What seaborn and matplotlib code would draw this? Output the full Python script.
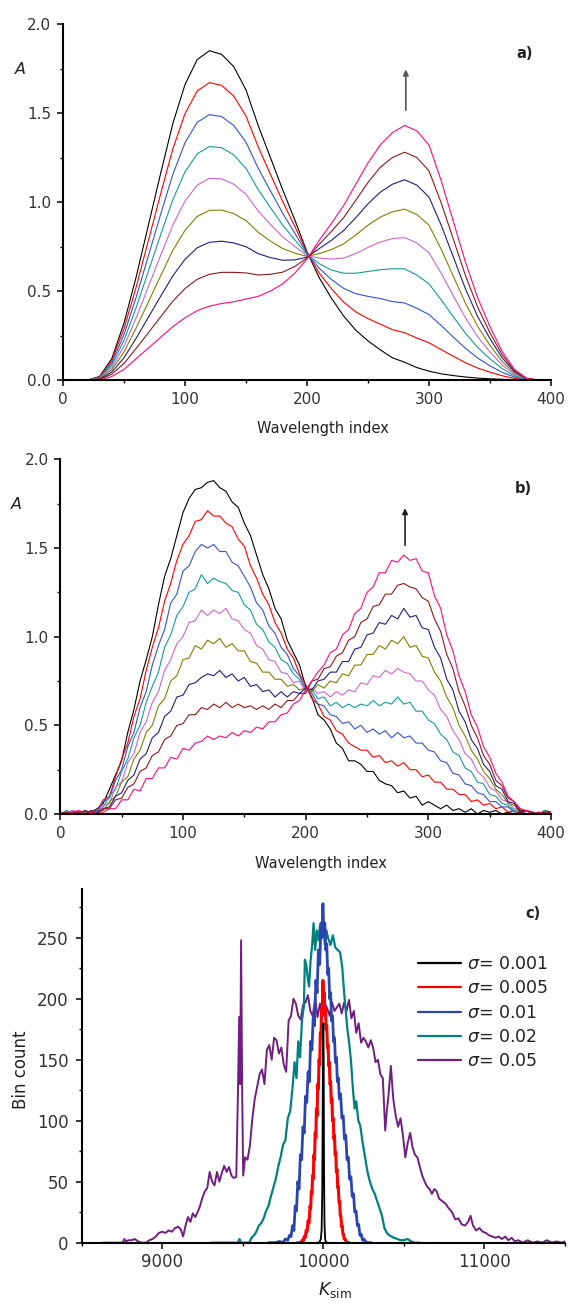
import numpy as np
import pandas as pd
import matplotlib
matplotlib.use("Agg")
import matplotlib.pyplot as plt
from matplotlib.ticker import MultipleLocator, FormatStrFormatter
import seaborn as sns

sns.set_theme(style="ticks")
plt.rcParams['font.family'] = ['DejaVu Sans']
plt.rcParams['mathtext.fontset'] = 'dejavusans'

# ---------------- panel a: clean spectra (every 10 wavelength indices) ----------------
wl_a = np.arange(0, 401, 10)
a_black = [0, 0, 0, 0.02, 0.12, 0.32, 0.58, 0.87, 1.16, 1.44, 1.66, 1.80, 1.85, 1.83, 1.76, 1.63, 1.43, 1.25, 1.07, 0.90,
           0.72, 0.575, 0.46, 0.36, 0.28, 0.22, 0.17, 0.125, 0.10, 0.07, 0.05, 0.035, 0.025, 0.017, 0.011, 0.007, 0.004, 0.002, 0, 0, 0]
a_red = [0, 0, 0, 0.018, 0.108, 0.288, 0.523, 0.784, 1.045, 1.298, 1.496, 1.624, 1.671, 1.655, 1.595, 1.483, 1.310, 1.156, 1.004, 0.863,
         0.715, 0.601, 0.513, 0.438, 0.383, 0.345, 0.314, 0.283, 0.266, 0.236, 0.209, 0.171, 0.133, 0.097, 0.067, 0.044, 0.024, 0.009, 0.001, 0, 0]
a_blue = [0, 0, 0, 0.015, 0.095, 0.255, 0.465, 0.698, 0.930, 1.155, 1.333, 1.448, 1.491, 1.480, 1.430, 1.336, 1.190, 1.063, 0.938, 0.825,
          0.710, 0.628, 0.565, 0.515, 0.485, 0.470, 0.458, 0.441, 0.433, 0.403, 0.368, 0.306, 0.241, 0.178, 0.123, 0.080, 0.043, 0.017, 0.003, 0, 0]
a_teal = [0, 0, 0, 0.013, 0.083, 0.223, 0.408, 0.611, 0.815, 1.013, 1.169, 1.271, 1.312, 1.305, 1.265, 1.189, 1.070, 0.969, 0.871, 0.788,
          0.705, 0.654, 0.618, 0.600, 0.600, 0.610, 0.620, 0.625, 0.625, 0.590, 0.540, 0.450, 0.355, 0.262, 0.182, 0.119, 0.064, 0.024, 0.004, 0, 0]
a_violet = [0, 0, 0, 0.010, 0.070, 0.190, 0.350, 0.525, 0.700, 0.870, 1.005, 1.095, 1.133, 1.130, 1.100, 1.043, 0.950, 0.875, 0.805, 0.750,
            0.700, 0.685, 0.680, 0.685, 0.710, 0.745, 0.775, 0.795, 0.800, 0.770, 0.715, 0.600, 0.472, 0.348, 0.242, 0.158, 0.084, 0.032, 0.005, 0, 0]
a_olive = [0, 0, 0, 0.008, 0.058, 0.158, 0.293, 0.439, 0.585, 0.728, 0.841, 0.919, 0.953, 0.955, 0.935, 0.896, 0.830, 0.781, 0.739, 0.713,
           0.695, 0.710, 0.733, 0.765, 0.815, 0.870, 0.915, 0.945, 0.960, 0.930, 0.870, 0.735, 0.582, 0.430, 0.300, 0.195, 0.104, 0.039, 0.006, 0, 0]
a_navy = [0, 0, 0, 0.005, 0.045, 0.125, 0.235, 0.353, 0.470, 0.585, 0.678, 0.743, 0.774, 0.780, 0.770, 0.749, 0.710, 0.688, 0.673, 0.675,
          0.690, 0.738, 0.785, 0.840, 0.912, 0.990, 1.055, 1.100, 1.125, 1.095, 1.028, 0.870, 0.690, 0.510, 0.355, 0.232, 0.124, 0.047, 0.008, 0, 0]
a_wine = [0, 0, 0, 0.003, 0.033, 0.093, 0.178, 0.266, 0.355, 0.443, 0.514, 0.566, 0.594, 0.605, 0.605, 0.602, 0.590, 0.594, 0.606, 0.638,
          0.685, 0.762, 0.835, 0.912, 1.010, 1.110, 1.195, 1.250, 1.280, 1.250, 1.175, 0.995, 0.790, 0.585, 0.408, 0.265, 0.142, 0.053, 0.009, 0, 0]
a_pink = [0, 0, 0, 0, 0.02, 0.06, 0.12, 0.18, 0.24, 0.30, 0.35, 0.39, 0.415, 0.43, 0.44, 0.455, 0.47, 0.50, 0.54, 0.60,
          0.68, 0.785, 0.88, 0.98, 1.10, 1.22, 1.32, 1.39, 1.43, 1.40, 1.32, 1.12, 0.89, 0.66, 0.46, 0.30, 0.16, 0.06, 0.01, 0, 0]

# ---------------- panel b: noisy spectra (every 5 wavelength indices) ----------------
wl_b = np.arange(0, 401, 5)
b_black = [0.01, 0.00, 0.02, -0.01, 0.01, 0.01, 0.03, 0.06, 0.14, 0.22,
           0.30, 0.46, 0.59, 0.75, 0.87, 1.00, 1.18, 1.34, 1.44, 1.57,
           1.70, 1.78, 1.83, 1.84, 1.87, 1.88, 1.84, 1.82, 1.76, 1.73,
           1.64, 1.57, 1.46, 1.35, 1.27, 1.16, 1.10, 0.98, 0.91, 0.84,
           0.72, 0.66, 0.56, 0.53, 0.48, 0.40, 0.37, 0.30, 0.30, 0.28,
           0.24, 0.24, 0.19, 0.17, 0.16, 0.12, 0.13, 0.09, 0.10, 0.05,
           0.07, 0.05, 0.03, 0.05, 0.02, 0.03, 0.01, 0.03, 0.00, 0.02,
           0.01, 0.02, 0.00, 0.01, 0.00, 0.01, 0.00, 0.01, 0.00, 0.02,
           0.01]
b_red = [0.00, 0.01, 0.01, 0.00, 0.02, 0.01, 0.02, 0.08, 0.10, 0.21,
         0.31, 0.40, 0.55, 0.65, 0.81, 0.94, 1.05, 1.20, 1.30, 1.43,
         1.52, 1.57, 1.65, 1.66, 1.71, 1.68, 1.68, 1.64, 1.62, 1.55,
         1.51, 1.40, 1.33, 1.24, 1.18, 1.08, 1.02, 0.93, 0.88, 0.79,
         0.73, 0.65, 0.62, 0.55, 0.53, 0.47, 0.45, 0.40, 0.38, 0.36,
         0.36, 0.32, 0.33, 0.29, 0.30, 0.27, 0.29, 0.25, 0.25, 0.21,
         0.22, 0.18, 0.18, 0.14, 0.14, 0.11, 0.11, 0.07, 0.08, 0.05,
         0.06, 0.03, 0.04, 0.01, 0.02, 0.00, 0.02, 0.01, 0.00, 0.01,
         0.00]
b_blue = [0.01, 0.00, 0.00, 0.02, 0.00, 0.02, 0.01, 0.07, 0.09, 0.19,
          0.25, 0.38, 0.46, 0.60, 0.69, 0.84, 0.95, 1.04, 1.19, 1.24,
          1.37, 1.40, 1.48, 1.52, 1.50, 1.52, 1.48, 1.48, 1.42, 1.40,
          1.34, 1.28, 1.19, 1.15, 1.06, 1.02, 0.94, 0.90, 0.82, 0.78,
          0.71, 0.68, 0.62, 0.61, 0.56, 0.55, 0.51, 0.52, 0.48, 0.50,
          0.46, 0.48, 0.45, 0.47, 0.43, 0.46, 0.43, 0.44, 0.40, 0.40,
          0.36, 0.35, 0.30, 0.29, 0.23, 0.22, 0.17, 0.16, 0.12, 0.11,
          0.07, 0.07, 0.04, 0.04, 0.01, 0.02, 0.00, 0.01, 0.00, 0.01,
          0.00]
b_teal = [0.00, 0.02, 0.01, 0.00, 0.01, 0.00, 0.02, 0.04, 0.10, 0.14,
          0.24, 0.31, 0.43, 0.50, 0.63, 0.72, 0.80, 0.94, 1.01, 1.12,
          1.17, 1.25, 1.27, 1.35, 1.30, 1.33, 1.31, 1.30, 1.26, 1.25,
          1.18, 1.15, 1.07, 1.04, 0.97, 0.94, 0.87, 0.85, 0.79, 0.76,
          0.70, 0.70, 0.65, 0.66, 0.61, 0.63, 0.60, 0.62, 0.60, 0.62,
          0.61, 0.64, 0.61, 0.63, 0.62, 0.66, 0.62, 0.63, 0.58, 0.58,
          0.53, 0.51, 0.45, 0.42, 0.35, 0.33, 0.26, 0.24, 0.18, 0.17,
          0.11, 0.10, 0.06, 0.05, 0.02, 0.03, 0.00, 0.01, 0.00, 0.02,
          0.00]
b_violet = [0.01, 0.00, 0.02, 0.01, 0.00, 0.01, 0.00, 0.05, 0.06, 0.15,
            0.18, 0.29, 0.34, 0.46, 0.52, 0.63, 0.69, 0.81, 0.87, 0.96,
            1.00, 1.08, 1.09, 1.15, 1.12, 1.15, 1.13, 1.16, 1.10, 1.09,
            1.04, 1.02, 0.95, 0.93, 0.87, 0.86, 0.80, 0.79, 0.74, 0.75,
            0.69, 0.71, 0.68, 0.69, 0.66, 0.69, 0.67, 0.70, 0.69, 0.74,
            0.73, 0.78, 0.77, 0.81, 0.79, 0.82, 0.80, 0.79, 0.75, 0.75,
            0.70, 0.67, 0.59, 0.55, 0.47, 0.42, 0.34, 0.31, 0.24, 0.21,
            0.15, 0.13, 0.08, 0.07, 0.03, 0.03, 0.00, 0.01, 0.00, 0.01,
            0.00]
b_olive = [0.00, 0.01, 0.00, 0.02, 0.01, 0.00, 0.01, 0.02, 0.07, 0.10,
           0.18, 0.21, 0.31, 0.36, 0.46, 0.50, 0.61, 0.65, 0.75, 0.78,
           0.87, 0.88, 0.95, 0.93, 0.98, 0.96, 0.99, 0.94, 0.96, 0.92,
           0.92, 0.86, 0.85, 0.80, 0.80, 0.76, 0.76, 0.72, 0.73, 0.70,
           0.71, 0.69, 0.73, 0.71, 0.75, 0.74, 0.79, 0.78, 0.84, 0.84,
           0.90, 0.90, 0.95, 0.93, 0.98, 0.96, 1.00, 0.94, 0.95, 0.89,
           0.88, 0.80, 0.75, 0.66, 0.60, 0.50, 0.44, 0.36, 0.31, 0.24,
           0.20, 0.14, 0.11, 0.06, 0.05, 0.01, 0.02, 0.00, 0.01, 0.00,
           0.01]
b_navy = [0.01, 0.00, 0.01, 0.00, 0.02, 0.00, 0.01, 0.03, 0.04, 0.10,
          0.12, 0.19, 0.22, 0.31, 0.34, 0.43, 0.46, 0.55, 0.58, 0.66,
          0.67, 0.73, 0.74, 0.77, 0.79, 0.78, 0.81, 0.77, 0.79, 0.75,
          0.77, 0.72, 0.73, 0.69, 0.70, 0.66, 0.69, 0.66, 0.69, 0.68,
          0.71, 0.70, 0.75, 0.76, 0.80, 0.80, 0.86, 0.86, 0.93, 0.94,
          1.01, 1.02, 1.08, 1.07, 1.12, 1.10, 1.16, 1.11, 1.12, 1.05,
          1.04, 0.94, 0.88, 0.76, 0.70, 0.58, 0.52, 0.42, 0.37, 0.28,
          0.24, 0.16, 0.14, 0.07, 0.06, 0.01, 0.02, 0.00, 0.01, 0.00,
          0.01]
b_wine = [0.00, 0.01, 0.00, 0.01, 0.00, 0.02, 0.00, 0.03, 0.03, 0.08,
          0.09, 0.15, 0.17, 0.24, 0.26, 0.33, 0.35, 0.42, 0.44, 0.50,
          0.51, 0.56, 0.56, 0.60, 0.59, 0.62, 0.60, 0.63, 0.60, 0.62,
          0.60, 0.61, 0.59, 0.61, 0.59, 0.62, 0.60, 0.64, 0.64, 0.68,
          0.68, 0.75, 0.76, 0.82, 0.83, 0.89, 0.91, 0.98, 1.00, 1.08,
          1.10, 1.17, 1.18, 1.24, 1.24, 1.29, 1.30, 1.28, 1.27, 1.22,
          1.20, 1.10, 1.03, 0.90, 0.82, 0.69, 0.61, 0.50, 0.43, 0.33,
          0.28, 0.19, 0.16, 0.09, 0.07, 0.02, 0.02, 0.01, 0.00, 0.01,
          0.00]
b_pink = [0.01, 0.00, 0.01, 0.02, 0.00, 0.01, 0.00, 0.01, 0.03, 0.03,
          0.08, 0.08, 0.14, 0.13, 0.20, 0.20, 0.26, 0.26, 0.32, 0.31,
          0.37, 0.36, 0.40, 0.41, 0.44, 0.42, 0.44, 0.43, 0.46, 0.44,
          0.47, 0.46, 0.49, 0.48, 0.52, 0.52, 0.56, 0.57, 0.62, 0.64,
          0.70, 0.75, 0.80, 0.84, 0.91, 0.93, 1.01, 1.04, 1.13, 1.16,
          1.25, 1.28, 1.36, 1.36, 1.43, 1.42, 1.46, 1.43, 1.44, 1.37,
          1.36, 1.23, 1.16, 1.01, 0.92, 0.78, 0.69, 0.56, 0.49, 0.38,
          0.32, 0.23, 0.18, 0.10, 0.07, 0.03, 0.02, 0.00, 0.01, 0.00,
          0.01]

spec_names = ["s1", "s2", "s3", "s4", "s5", "s6", "s7", "s8", "s9"]
spec_colors = ["#000000", "#ff0000", "#3355cc", "#159a9a", "#cc66cc", "#808000", "#1f1f7a", "#8b1a1a", "#ff0a80"]

# ---------------- panel c: K_sim histograms ----------------
sigma_labels = ["0.001", "0.005", "0.01", "0.02", "0.05"]
sigma_colors = ["#000000", "#ff0000", "#2a44b0", "#008080", "#6f1f7f"]

k_s001 = [9960, 9975, 9985, 9990, 9994, 9997, 9999, 10001, 10003, 10005, 10008, 10012, 10018, 10030]
n_s001 = [0, 0, 3, 10, 40, 120, 170, 180, 150, 60, 15, 3, 0, 0]

k_s005 = [9840, 9860, 9870, 9876, 9882, 9888, 9894, 9900, 9906, 9912, 9918, 9922, 9926, 9930, 9934, 9938, 9942, 9946,
          9950, 9954, 9958, 9962, 9966, 9970, 9974, 9978, 9982, 9986, 9990, 9994, 9998, 10002, 10006, 10010, 10014,
          10018, 10022, 10026, 10030, 10034, 10038, 10042, 10046, 10050, 10054, 10058, 10062, 10066, 10070, 10074,
          10078, 10082, 10086, 10090, 10094, 10098, 10102, 10106, 10110, 10114, 10118, 10122, 10126, 10130, 10136,
          10142, 10150, 10160]
n_s005 = [0, 0, 2, 1, 5, 4, 10, 9, 18, 16, 30, 28, 42, 40, 55, 52, 72, 68,
          90, 86, 110, 104, 130, 126, 150, 146, 172, 168, 192, 186, 215, 200, 205, 188, 192,
          175, 178, 160, 162, 145, 148, 130, 132, 115, 118, 100, 102, 85, 88, 72,
          74, 58, 60, 45, 46, 33, 34, 22, 22, 13, 14, 7, 7, 3, 3,
          1, 0, 0]

k_s01 = [9660, 9700, 9730, 9750, 9765, 9780, 9790, 9800, 9810, 9818, 9826, 9834, 9842, 9850, 9858, 9866, 9874, 9882,
         9890, 9898, 9906, 9914, 9922, 9930, 9938, 9946, 9954, 9962, 9970, 9978, 9986, 9992, 9998, 10004, 10010,
         10016, 10022, 10028, 10034, 10040, 10046, 10052, 10058, 10064, 10070, 10076, 10082, 10088, 10094, 10100,
         10108, 10116, 10124, 10132, 10140, 10148, 10156, 10164, 10172, 10180, 10188, 10196, 10204, 10212, 10220,
         10228, 10236, 10244, 10252, 10262, 10275, 10300]
n_s01 = [0, 0, 1, 0, 3, 2, 6, 5, 14, 10, 30, 26, 50, 44, 72, 68, 95, 90,
         120, 115, 140, 132, 165, 158, 185, 178, 215, 205, 240, 228, 262, 250, 278, 255, 262,
         240, 245, 220, 225, 200, 205, 182, 186, 165, 168, 148, 152, 132, 135, 118,
         122, 102, 104, 85, 88, 68, 70, 52, 54, 38, 40, 25, 26, 14, 15,
         6, 7, 2, 3, 1, 0, 0]

k_s02 = [9300, 9400, 9470, 9480, 9490, 9540, 9555, 9570, 9585, 9600, 9615, 9630, 9645, 9660, 9675, 9690, 9705, 9720,
         9735, 9750, 9765, 9780, 9795, 9810, 9822, 9834, 9845, 9856, 9868, 9880, 9886, 9895, 9903, 9912, 9922, 9932,
         9940, 9950, 9960, 9970, 9980, 9990, 10000, 10010, 10020, 10030, 10045, 10060, 10075, 10090, 10105, 10118,
         10130, 10140, 10150, 10160, 10172, 10185, 10195, 10205, 10218, 10230, 10245, 10260, 10275, 10290, 10305,
         10320, 10335, 10350, 10365, 10380, 10395, 10410, 10425, 10440, 10460, 10480, 10500, 10525, 10545, 10570, 10600]
n_s02 = [0, 0, 0, 3, 0, 0, 4, 6, 9, 14, 16, 20, 26, 30, 38, 45, 52, 62,
         70, 80, 84, 102, 108, 128, 148, 135, 165, 152, 182, 194, 232, 228, 218, 210, 232, 245,
         262, 240, 256, 248, 260, 252, 262, 244, 256, 250, 244, 252, 242, 240, 238, 226,
         205, 190, 175, 165, 150, 125, 110, 116, 100, 96, 82, 70, 58, 50, 44,
         40, 34, 28, 22, 12, 8, 6, 5, 4, 3, 2, 2, 3, 1, 0, 0]

k_s05 = [8630, 8700, 8755, 8765, 8775, 8790, 8810, 8830, 8850, 8870, 8900, 8920, 8940, 8960, 8980, 9000, 9020, 9040,
         9060, 9080, 9100, 9115, 9130, 9145, 9160, 9175, 9190, 9205, 9220, 9235, 9250, 9265, 9280, 9295, 9310, 9325,
         9340, 9355, 9370, 9385, 9400, 9415, 9430, 9445, 9460, 9470, 9478, 9484, 9490, 9497, 9503, 9515, 9530, 9545,
         9560, 9575, 9590, 9605, 9620, 9635, 9650, 9665, 9680, 9695, 9710, 9725, 9740, 9755, 9770, 9785, 9800, 9815,
         9830, 9845, 9860, 9875, 9890, 9905, 9920, 9935, 9950, 9965, 9980, 9995, 10010, 10025, 10040, 10055, 10070,
         10085, 10100, 10115, 10130, 10145, 10160, 10175, 10190, 10205, 10220, 10235, 10250, 10265, 10280, 10295,
         10310, 10325, 10340, 10355, 10370, 10385, 10395, 10405, 10420, 10435, 10450, 10465, 10480, 10495, 10510,
         10525, 10540, 10555, 10570, 10585, 10600, 10615, 10630, 10645, 10660, 10675, 10690, 10705, 10720, 10740,
         10760, 10780, 10800, 10820, 10840, 10860, 10880, 10900, 10915, 10930, 10950, 10970, 10990, 11010, 11030,
         11050, 11070, 11090, 11110, 11130, 11150, 11170, 11190, 11210, 11240, 11270, 11300, 11330, 11360, 11390,
         11420, 11450, 11480, 11500]
n_s05 = [0, 0, 0, 3, 1, 2, 2, 3, 1, 0, 0, 2, 3, 5, 8, 9, 8, 10,
         9, 12, 13, 11, 5, 14, 21, 17, 24, 21, 25, 30, 37, 42, 45, 58, 50, 47,
         58, 50, 57, 63, 58, 62, 55, 53, 54, 120, 185, 130, 248, 120, 55, 70, 68, 80,
         102, 118, 128, 138, 142, 130, 158, 162, 150, 168, 166, 155, 160, 146, 140, 182, 186, 200,
         196, 186, 183, 195, 197, 203, 190, 186, 200, 185, 196, 190, 196, 192, 186, 197, 190,
         193, 196, 188, 197, 190, 199, 184, 190, 172, 180, 164, 168, 165, 160, 166,
         160, 148, 150, 138, 135, 92, 108, 120, 145, 118, 104, 95, 102, 88, 70,
         82, 90, 78, 72, 70, 62, 55, 50, 46, 44, 40, 44, 42, 36, 34,
         32, 28, 25, 19, 20, 15, 14, 17, 22, 14, 10, 12, 9, 8, 6,
         5, 4, 5, 3, 5, 2, 4, 1, 2, 0, 2, 0, 1, 0, 2,
         0, 1, 0, 1]

hist_k = [k_s001, k_s005, k_s01, k_s02, k_s05]
hist_n = [n_s001, n_s005, n_s01, n_s02, n_s05]
hist_lw = [1.3, 2.2, 2.0, 1.6, 1.4]

TICK_COLOR = "#333333"
TEXT_COLOR = "#222222"


def style_axis(ax, fs, xpad, ypad):
    for side in ["top", "right"]:
        ax.spines[side].set_visible(False)
    for side in ["left", "bottom"]:
        ax.spines[side].set_linewidth(1.5)
        ax.spines[side].set_color("black")
    ax.tick_params(which="major", direction="out", length=4, width=1.1, color="black",
                   labelsize=fs, labelcolor=TICK_COLOR)
    ax.tick_params(which="minor", direction="out", length=2.2, width=1.0, color="black")
    ax.tick_params(axis="x", which="major", pad=xpad)
    ax.tick_params(axis="y", which="major", pad=ypad)


fig = plt.figure(figsize=(5.68, 13.06), dpi=100)

# ---- a) and b) ----
spec_sets = [
    (wl_a, [a_black, a_red, a_blue, a_teal, a_violet, a_olive, a_navy, a_wine, a_pink]),
    (wl_b, [b_black, b_red, b_blue, b_teal, b_violet, b_olive, b_navy, b_wine, b_pink]),
]
spec_boxes = [[0.1109, 0.7090, 0.8592, 0.2726], [0.1062, 0.3767, 0.8639, 0.2716]]
panel_tags = ["a)", "b)"]
arrow_tip = [1.76, 1.74]
arrow_col = ["#555555", "#222222"]
xlab_pos = [(0.533, -0.135), (0.531, -0.139)]
ylab_pos = [(-0.088, 0.871), (-0.090, 0.874)]
tag_pos = [(0.945, 0.918), (0.943, 0.919)]

for i, (wl, curves) in enumerate(spec_sets):
    ax = fig.add_axes(spec_boxes[i])
    df = pd.DataFrame({
        "wl": np.tile(wl, len(curves)),
        "A": np.concatenate([np.asarray(c, dtype=float) for c in curves]),
        "curve": np.repeat(spec_names, len(wl)),
    })
    sns.lineplot(data=df, x="wl", y="A", hue="curve", hue_order=spec_names,
                 palette=dict(zip(spec_names, spec_colors)), estimator=None, sort=False,
                 legend=False, linewidth=0.8, ax=ax)
    ax.set_xlim(0, 400)
    ax.set_ylim(0, 2.0)
    ax.xaxis.set_major_locator(MultipleLocator(100))
    ax.xaxis.set_minor_locator(MultipleLocator(50))
    ax.yaxis.set_major_locator(MultipleLocator(0.5))
    ax.yaxis.set_minor_locator(MultipleLocator(0.25))
    ax.yaxis.set_major_formatter(FormatStrFormatter("%.1f"))
    style_axis(ax, 11, 4.5, 4.5)
    ax.set_xlabel("Wavelength index", fontsize=10.5, color=TEXT_COLOR, va="center")
    ax.xaxis.set_label_coords(*xlab_pos[i])
    ax.set_ylabel("A", fontsize=11.5, style="italic", rotation=0, color=TEXT_COLOR, va="center", ha="center")
    ax.yaxis.set_label_coords(*ylab_pos[i])
    ax.text(*tag_pos[i], panel_tags[i], transform=ax.transAxes, fontsize=10.5, fontweight="bold",
            ha="center", va="center", color=TEXT_COLOR)
    ax.annotate("", xy=(281, arrow_tip[i]), xytext=(281, 1.50),
                arrowprops=dict(arrowstyle="-|>", color=arrow_col[i], lw=1.2, mutation_scale=8))

# ---- c) ----
axc = fig.add_axes([0.1438, 0.0485, 0.8505, 0.2708])
for j in range(len(sigma_labels) - 1, -1, -1):
    sns.lineplot(x=hist_k[j], y=hist_n[j], color=sigma_colors[j], linewidth=hist_lw[j],
                 estimator=None, sort=False, label=r"$\sigma$= " + sigma_labels[j], ax=axc)
axc.set_xlim(8500, 11500)
axc.set_ylim(0, 290)
axc.xaxis.set_major_locator(MultipleLocator(1000))
axc.xaxis.set_minor_locator(MultipleLocator(500))
axc.yaxis.set_major_locator(MultipleLocator(50))
axc.yaxis.set_minor_locator(MultipleLocator(25))
style_axis(axc, 12, 3.5, 5.5)
axc.set_xlabel(r"$K_{\mathrm{sim}}$", fontsize=12.5, color=TEXT_COLOR, va="center")
axc.xaxis.set_label_coords(0.524, -0.133)
axc.set_ylabel("Bin count", fontsize=12, color=TEXT_COLOR, va="center")
axc.yaxis.set_label_coords(-0.126, 0.488)
axc.text(0.934, 0.932, "c)", transform=axc.transAxes, fontsize=10.5, fontweight="bold",
         ha="center", va="center", color=TEXT_COLOR)

handles, labels = axc.get_legend_handles_labels()
leg = axc.legend(handles[::-1], labels[::-1], loc="upper left", bbox_to_anchor=(0.697, 0.813),
                 frameon=False, fontsize=12.5, handlelength=2.47, handletextpad=0.35,
                 labelspacing=0.36, borderpad=0, borderaxespad=0)
for line in leg.get_lines():
    line.set_linewidth(1.6)
for t in leg.get_texts():
    t.set_color(TEXT_COLOR)

fig.savefig("out.png", dpi=100)
